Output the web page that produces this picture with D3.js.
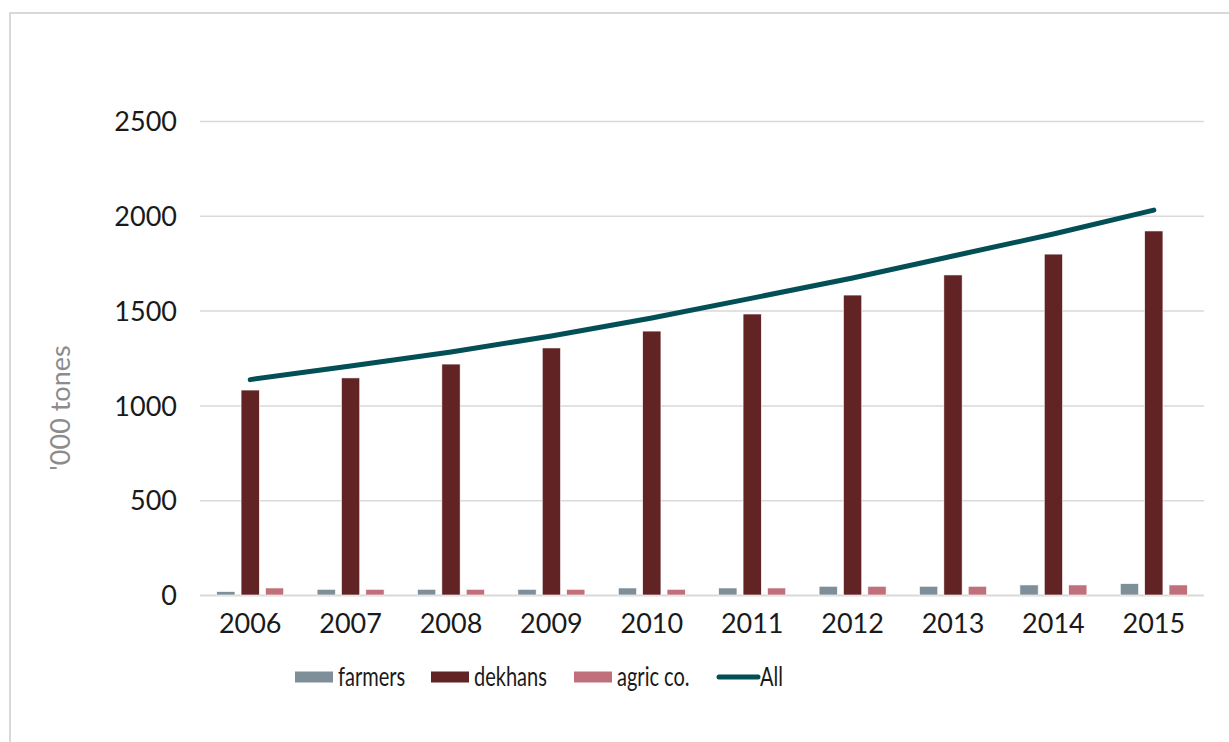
<!DOCTYPE html>
<html>
<head>
<meta charset="utf-8">
<script src="https://cdn.jsdelivr.net/npm/d3@7"></script>
<style>
  html, body { margin: 0; padding: 0; background: #fff; }
  svg { display: block; }
  text { font-family: Lato, "Noto Sans", sans-serif; }
</style>
</head>
<body>
<svg id="chart" width="1229" height="742"></svg>
<script>
// Production by farm type, thousand tonnes
const years = ["2006", "2007", "2008", "2009", "2010", "2011", "2012", "2013", "2014", "2015"];
const farmers = [18, 30, 30, 30, 37, 37, 46, 46, 53, 60];
const dekhans = [1081, 1145, 1218, 1303, 1392, 1482, 1582, 1688, 1798, 1920];
const agricCo = [37, 30, 30, 30, 30, 37, 46, 46, 53, 53];
const allFarms = [1136, 1208, 1282, 1366, 1461, 1566, 1672, 1788, 1904, 2030];
const yTicks = [0, 500, 1000, 1500, 2000, 2500];

const seriesNames = ["farmers", "dekhans", "agric co."];
const seriesColors = ["#7f8f99", "#622324", "#c0707a"];
const lineName = "All";
const lineColor = "#034f56";

const svg = d3.select("#chart");
const W = 1229, H = 742;

// outer frame
svg.append("rect")
  .attr("x", 10).attr("y", 13)
  .attr("width", W + 10).attr("height", H + 10)
  .attr("fill", "none").attr("stroke", "#d9d9d9").attr("stroke-width", 2);

const plot = { left: 200, right: 1204, top: 121, bottom: 595 };

const x = d3.scaleBand().domain(years).range([plot.left, plot.right]).padding(0);
const y = d3.scaleLinear().domain([0, 2500]).range([plot.bottom, plot.top]);

const inner = d3.scaleBand().domain(seriesNames).range([-33.5, 33.5]).paddingInner(0.25).paddingOuter(0);

// grid lines
const yAxis = d3.axisLeft(y).tickValues(yTicks).tickSize(-(plot.right - plot.left)).tickPadding(23).tickFormat(d3.format("d"));
const gy = svg.append("g").attr("transform", `translate(${plot.left},0)`).call(yAxis);
gy.select(".domain").remove();
gy.selectAll(".tick line").attr("stroke", "#d9d9d9").attr("stroke-width", d => d === 0 ? 2.2 : 1.5);
gy.selectAll(".tick text").attr("fill", "#1a1a1a").style("font-size", "27px").attr("dy", "0.36em");

// bars
const seriesData = [farmers, dekhans, agricCo];
seriesData.forEach((vals, si) => {
  svg.append("g").selectAll("rect")
    .data(vals)
    .join("rect")
    .attr("x", (d, i) => x(years[i]) + x.bandwidth() / 2 + inner(seriesNames[si]))
    .attr("width", inner.bandwidth())
    .attr("y", d => y(d))
    .attr("height", d => y(0) - y(d))
    .attr("fill", seriesColors[si])
    .attr("stroke", "#fff")
    .attr("stroke-width", 0.6);
});

// total line
const line = d3.line()
  .x((d, i) => x(years[i]) + x.bandwidth() / 2)
  .y(d => y(d));
svg.append("path")
  .datum(allFarms)
  .attr("d", line)
  .attr("fill", "none")
  .attr("stroke", lineColor)
  .attr("stroke-width", 5)
  .attr("stroke-linecap", "round")
  .attr("stroke-linejoin", "round");

// x axis labels
const xAxis = d3.axisBottom(x).tickSize(0).tickPadding(0);
const gx = svg.append("g").attr("transform", `translate(0,${plot.bottom})`).call(xAxis);
gx.select(".domain").remove();
gx.selectAll(".tick text")
  .attr("y", 38).attr("dy", 0)
  .attr("fill", "#1a1a1a").style("font-size", "27px");

// y axis title
svg.append("text")
  .attr("transform", "translate(70,408) rotate(-90)")
  .attr("text-anchor", "middle")
  .attr("fill", "#8c8c8c")
  .style("font-size", "27px")
  .text("'000 tones");

// legend
const legendY = 677;
const legendItems = [
  { name: seriesNames[0], color: seriesColors[0], x: 295, type: "rect" },
  { name: seriesNames[1], color: seriesColors[1], x: 431, type: "rect" },
  { name: seriesNames[2], color: seriesColors[2], x: 574, type: "rect" },
  { name: lineName, color: lineColor, x: 717, type: "line" }
];
const lg = svg.append("g");
legendItems.forEach(it => {
  if (it.type === "rect") {
    lg.append("rect").attr("x", it.x).attr("y", legendY - 5.5).attr("width", 38).attr("height", 11).attr("fill", it.color);
  } else {
    lg.append("line").attr("x1", it.x + 2).attr("x2", it.x + 41).attr("y1", legendY).attr("y2", legendY)
      .attr("stroke", it.color).attr("stroke-width", 5).attr("stroke-linecap", "round");
  }
  lg.append("text")
    .attr("transform", `translate(${it.x + 43},${legendY + 8.5}) scale(0.77,1)`)
    .attr("fill", "#1a1a1a")
    .style("font-size", "26px")
    .text(it.name);
});
</script>
</body>
</html>
